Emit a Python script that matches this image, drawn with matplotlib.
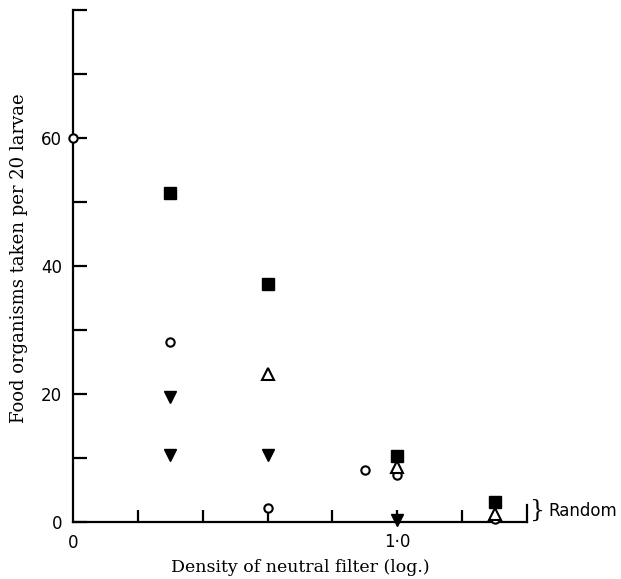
import matplotlib.pyplot as plt

# values (density of neutral filter vs. organisms taken)
sq_x = [0.3, 0.6, 1.0, 1.3]
sq_y = [51.5, 37.2, 10.3, 3.2]
circ_x = [0.0, 0.3, 0.6, 0.9, 1.0, 1.3]
circ_y = [60.0, 28.2, 2.2, 8.2, 7.3, 0.4]
tri_up_x = [0.6, 1.0, 1.3]
tri_up_y = [23.2, 8.6, 1.2]
tri_dn_x = [0.3, 0.3, 0.6, 1.0]
tri_dn_y = [19.5, 10.5, 10.5, 0.3]

x_ticks = [0.2, 0.4, 0.6, 0.8, 1.0, 1.2]
y_ticks = [0, 10, 20, 30, 40, 50, 60, 70, 80]
y_labels = ['0', '', '20', '', '40', '', '60', '', '']

fig = plt.figure(figsize=(6.21, 5.79), dpi=100)
ax = fig.add_axes([0.1176, 0.0984, 0.731, 0.884])

ax.plot(sq_x, sq_y, 's', color='black', ms=8, clip_on=False, zorder=3)
ax.plot(circ_x, circ_y, 'o', mfc='white', mec='black', mew=1.5, ms=6, clip_on=False, zorder=3)
ax.plot(tri_up_x, tri_up_y, '^', mfc='white', mec='black', mew=1.5, ms=8, clip_on=False, zorder=3)
ax.plot(tri_dn_x, tri_dn_y, 'v', color='black', ms=9, clip_on=False, zorder=3)

ax.set_xlim(0, 1.4)
ax.set_ylim(0, 80)

for s in ['top', 'right']:
    ax.spines[s].set_visible(False)
for s in ['left', 'bottom']:
    ax.spines[s].set_linewidth(1.6)

# little upturned end of the x axis
ax.plot([1.4, 1.4], [0, 2.6], color='black', lw=1.6, clip_on=False)

ax.set_yticks(y_ticks)
ax.set_yticklabels(y_labels)
ax.set_xticks(x_ticks)
ax.set_xticklabels(['', '', '', '', '1·0', ''])
ax.tick_params(axis='y', direction='in', length=10, width=1.6, labelsize=12, pad=8)
ax.tick_params(axis='x', direction='in', length=9, width=1.6, labelsize=12, pad=8)
ax.text(0, -1.9, '0', ha='center', va='top', fontsize=12)

ax.text(1.41, 1.8, '}', fontsize=17, va='center', ha='left', family='DejaVu Serif')
ax.text(1.465, 1.8, 'Random', fontsize=12, va='center', ha='left')

ax.set_xlabel('Density of neutral filter (log.)', family='DejaVu Serif', fontsize=12.5)
ax.set_ylabel('Food organisms taken per 20 larvae', family='DejaVu Serif', fontsize=13)
ax.xaxis.set_label_coords(0.5, -0.073)
ax.yaxis.set_label_coords(-0.099, 0.516)

plt.savefig('out.png', dpi=100)
